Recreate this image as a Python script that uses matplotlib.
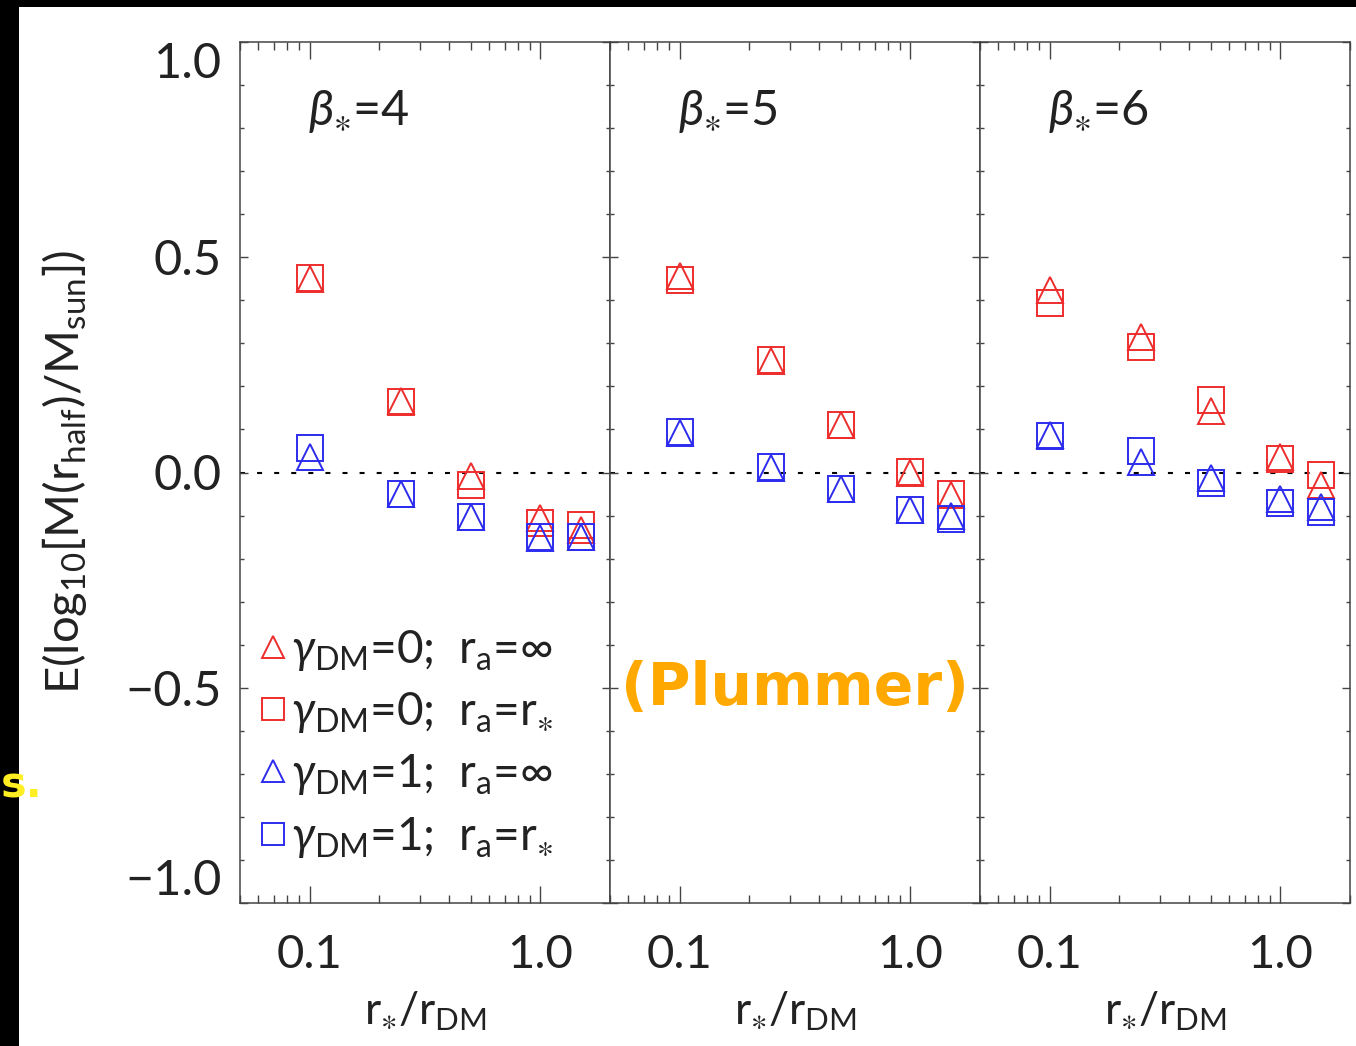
import matplotlib
matplotlib.use('Agg')
import matplotlib.pyplot as plt
from matplotlib.patches import Rectangle
from matplotlib.ticker import LogLocator, FixedLocator, MultipleLocator, NullFormatter

plt.rcParams['font.family'] = ['Lato', 'DejaVu Sans']
plt.rcParams['mathtext.fontset'] = 'custom'
plt.rcParams['mathtext.rm'] = 'Lato'
plt.rcParams['mathtext.it'] = 'Lato:italic'
plt.rcParams['mathtext.fallback'] = 'stixsans'

# stellar-to-DM scale radius ratio
r_ratio = [0.1, 0.25, 0.5, 1.0, 1.5]
betas = [4, 5, 6]

# beta_* = 4
b4_g0_iso = [0.450, 0.165, -0.009, -0.106, -0.133]
b4_g0_rs = [0.452, 0.164, -0.030, -0.117, -0.122]
b4_g1_iso = [0.037, -0.050, -0.104, -0.153, -0.150]
b4_g1_rs = [0.057, -0.050, -0.104, -0.150, -0.150]

# beta_* = 5
b5_g0_iso = [0.457, 0.260, 0.111, -0.002, -0.053]
b5_g0_rs = [0.448, 0.261, 0.111, 0.001, -0.051]
b5_g1_iso = [0.091, 0.011, -0.038, -0.088, -0.102]
b5_g1_rs = [0.094, 0.013, -0.038, -0.088, -0.108]

# beta_* = 6
b6_g0_iso = [0.425, 0.314, 0.143, 0.036, -0.030]
b6_g0_rs = [0.394, 0.291, 0.169, 0.031, -0.005]
b6_g1_iso = [0.088, 0.025, -0.012, -0.062, -0.081]
b6_g1_rs = [0.084, 0.050, -0.024, -0.071, -0.091]

panels = [
    [b4_g0_iso, b4_g0_rs, b4_g1_iso, b4_g1_rs],
    [b5_g0_iso, b5_g0_rs, b5_g1_iso, b5_g1_rs],
    [b6_g0_iso, b6_g0_rs, b6_g1_iso, b6_g1_rs],
]

RED = '#ee2c2c'
BLUE = '#2c2cee'
TXT = '#222222'
styles = [('^', RED), ('s', RED), ('^', BLUE), ('s', BLUE)]
labels = [
    r'$\gamma_{\rm DM}$=0;  r$_{\rm a}$=$\infty$',
    r'$\gamma_{\rm DM}$=0;  r$_{\rm a}$=r$_{\ast}$',
    r'$\gamma_{\rm DM}$=1;  r$_{\rm a}$=$\infty$',
    r'$\gamma_{\rm DM}$=1;  r$_{\rm a}$=r$_{\ast}$',
]

W, H = 1356, 1046
fig = plt.figure(figsize=(W / 100, H / 100), dpi=100)
gs = fig.add_gridspec(1, 3, left=240 / W, right=1350 / W,
                      bottom=1 - 903 / H, top=1 - 42 / H, wspace=0)

axes = []
for k, beta in enumerate(betas):
    ax = fig.add_subplot(gs[0, k], sharey=axes[0] if axes else None)
    axes.append(ax)
    ax.set_xscale('log')
    ax.set_xlim(0.05, 2.0)
    ax.set_ylim(-1.0, 1.0)

    ax.axhline(0.0, color='black', lw=1.5, dashes=(2.4, 5.8), zorder=1)

    for vals, (mk, col), lab in zip(panels[k], styles, labels):
        ms = 19 if mk == 's' else 18.5
        ax.plot(r_ratio, vals, ls='none', marker=mk, ms=ms, mfc='none',
                mec=col, mew=1.4, label=lab, zorder=3)

    ax.text(0.184, 0.919, r'$\beta_{\ast}$=%d' % beta, transform=ax.transAxes,
            ha='left', va='center', fontsize=35, color=TXT)

    # axis styling: inward ticks on all four sides
    ax.xaxis.set_major_locator(FixedLocator([0.1, 1.0]))
    ax.set_xticklabels(['0.1', '1.0'])
    ax.xaxis.set_minor_locator(LogLocator(base=10, subs=range(2, 10)))
    ax.xaxis.set_minor_formatter(NullFormatter())
    ax.yaxis.set_major_locator(FixedLocator([-1.0, -0.5, 0.0, 0.5, 1.0]))
    ax.yaxis.set_minor_locator(MultipleLocator(0.1))
    ax.tick_params(axis='both', which='both', direction='in',
                   top=True, right=True, color='#444444', width=1.0,
                   labelcolor=TXT)
    ax.tick_params(axis='x', which='major', length=12, pad=22, labelsize=34)
    ax.tick_params(axis='x', which='minor', length=6)
    ax.tick_params(axis='y', which='major', length=5.5, pad=13, labelsize=35)
    ax.tick_params(axis='y', which='minor', length=3)
    for sp in ax.spines.values():
        sp.set_color('#444444')
        sp.set_linewidth(1.1)
    if k > 0:
        ax.tick_params(axis='y', labelleft=False)

    ax.set_xlabel(r'r$_{\ast}$/r$_{\rm DM}$', fontsize=32, labelpad=10,
                  color=TXT)

axes[0].set_yticklabels(['\u22121.0', '\u22120.5', '0.0', '0.5', '1.0'])
# keep the end labels inside the frame
ylabs = axes[0].get_yticklabels()
ylabs[0].set_va('bottom')
ylabs[-1].set_va('top')

leg = axes[0].legend(loc='lower left', bbox_to_anchor=(-0.004, 0.0235),
                     frameon=False, fontsize=33, handlelength=0.5,
                     handletextpad=0.15, labelspacing=0.38, borderpad=0,
                     markerscale=0.85)
for t in leg.get_texts():
    t.set_color(TXT)

fig.text(65 / W, 1 - 472 / H,
         r'E(log$_{10}$[M(r$_{\rm half}$)/M$_{\rm sun}$])',
         rotation=90, ha='center', va='center', fontsize=34, color=TXT)

# slide overlay
fig.text(795 / W, 1 - 688 / H, '(Plummer)', ha='center', va='center',
         fontsize=42, fontweight='bold', color='#ffa800',
         family='DejaVu Sans', zorder=10)
fig.add_artist(Rectangle((0, 1 - 7 / H), 1, 7 / H, transform=fig.transFigure,
                         facecolor='black', edgecolor='none', zorder=20))
fig.add_artist(Rectangle((0, 0), 19 / W, 1, transform=fig.transFigure,
                         facecolor='black', edgecolor='none', zorder=20))
fig.text(1 / W, 1 - 785 / H, 's.', ha='left', va='center', fontsize=31,
         fontweight='bold', color='#ffee22', family='DejaVu Sans', zorder=30)

fig.savefig('out.png', dpi=100)
